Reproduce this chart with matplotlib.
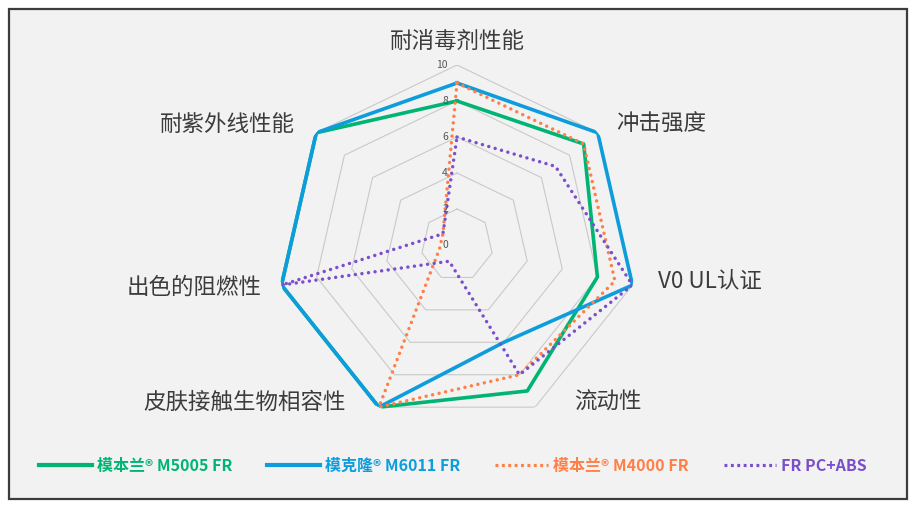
import numpy as np
import matplotlib
matplotlib.use("Agg")
import matplotlib.pyplot as plt
from matplotlib.lines import Line2D
from matplotlib.patches import Rectangle

plt.rcParams['font.family'] = ['Noto Sans CJK SC', 'DejaVu Sans']

# 数据
categories = ['耐消毒剂性能', '冲击强度', 'V0 UL认证', '流动性',
              '皮肤接触生物相容性', '出色的阻燃性', '耐紫外线性能']
m5005 = [8, 9, 8, 9, 10, 10, 10]
m6011 = [9, 10, 10, 6, 10, 10, 10]
m4000 = [9, 9, 9, 8, 10, 1, 1]
pc_abs = [6, 7, 10, 8, 1, 10, 1]
series_names = ['模本兰® M5005 FR', '模克隆® M6011 FR', '模本兰® M4000 FR', 'FR PC+ABS']
ring_values = [2, 4, 6, 8, 10]
tick_values = [0, 2, 4, 6, 8, 10]

colors = ['#00b574', '#0e9ddc', '#ff7f47', '#7a4fcb']
W, H = 916, 508

fig = plt.figure(figsize=(W / 100, H / 100), dpi=100, facecolor='white')
# 外框
fig.patches.append(Rectangle((9 / W, 1 - 499 / H), 898 / W, 490 / H,
                             transform=fig.transFigure, facecolor='#f2f2f2',
                             edgecolor='#3c3c3c', linewidth=1.6, zorder=-5))

cx, cy, R = 457, 245, 180
ax = fig.add_axes([(cx - R) / W, 1 - (cy + R) / H, 2 * R / W, 2 * R / H], polar=True)
ax.set_zorder(2)
ax.set_theta_zero_location('N')
ax.set_theta_direction(-1)
ax.set_ylim(0, 10)
ax.grid(False)
ax.set_xticks([])
ax.set_yticks([])
ax.spines['polar'].set_visible(False)
ax.patch.set_alpha(0)

n = len(categories)
angles = np.linspace(0, 2 * np.pi, n, endpoint=False)
closed = np.append(angles, angles[0])

# 七边形网格
for r in ring_values:
    ax.plot(closed, [r] * (n + 1), color='#c9c9c9', linewidth=0.8, zorder=1)

def close(v):
    return list(v) + [v[0]]

ax.plot(closed, close(m5005), color=colors[0], linewidth=2.6, zorder=3)
ax.plot(closed, close(m6011), color=colors[1], linewidth=2.6, zorder=4)
dot = (0, (0.01, 1.9))
ax.plot(closed, close(m4000), color=colors[2], linewidth=2.5, linestyle=dot,
        dash_capstyle='round', zorder=5)
ax.plot(closed, close(pc_abs), color=colors[3], linewidth=2.5, linestyle=dot,
        dash_capstyle='round', zorder=6)

# 刻度
for t in tick_values:
    ax.annotate(str(t), xy=(0, t), xytext=(-6.5, 0), textcoords='offset points',
                ha='right', va='center', fontsize=7.5, color='#555555', zorder=7,
                annotation_clip=False)

# 轴标签 (像素位置)
label_pos = [(457, 41, 'center'), (616, 124, 'left'), (658, 281, 'left'),
             (574, 402, 'left'), (346, 402, 'right'), (262, 287, 'right'),
             (295, 124, 'right')]
for name, (x, y, ha) in zip(categories, label_pos):
    fig.text(x / W, 1 - y / H, name, ha=ha, va='center', fontsize=16.2,
             color='#3c3c3c')

handles = [
    Line2D([], [], color=colors[0], linewidth=3),
    Line2D([], [], color=colors[1], linewidth=3),
    Line2D([], [], color=colors[2], linewidth=2.3, linestyle=(0, (0.9, 1.1))),
    Line2D([], [], color=colors[3], linewidth=2.3, linestyle=(0, (0.9, 1.1))),
]
leg = fig.legend(handles, series_names, loc='center', bbox_to_anchor=(453 / W, 1 - 466 / H),
                 ncol=4, frameon=False, fontsize=11.5, handlelength=3.3,
                 handletextpad=0.3, columnspacing=2.2,
                 prop={'weight': 'bold', 'size': 11.5})
for txt, c in zip(leg.get_texts(), colors):
    txt.set_color(c)

fig.savefig('out.png', dpi=100, facecolor='white')
